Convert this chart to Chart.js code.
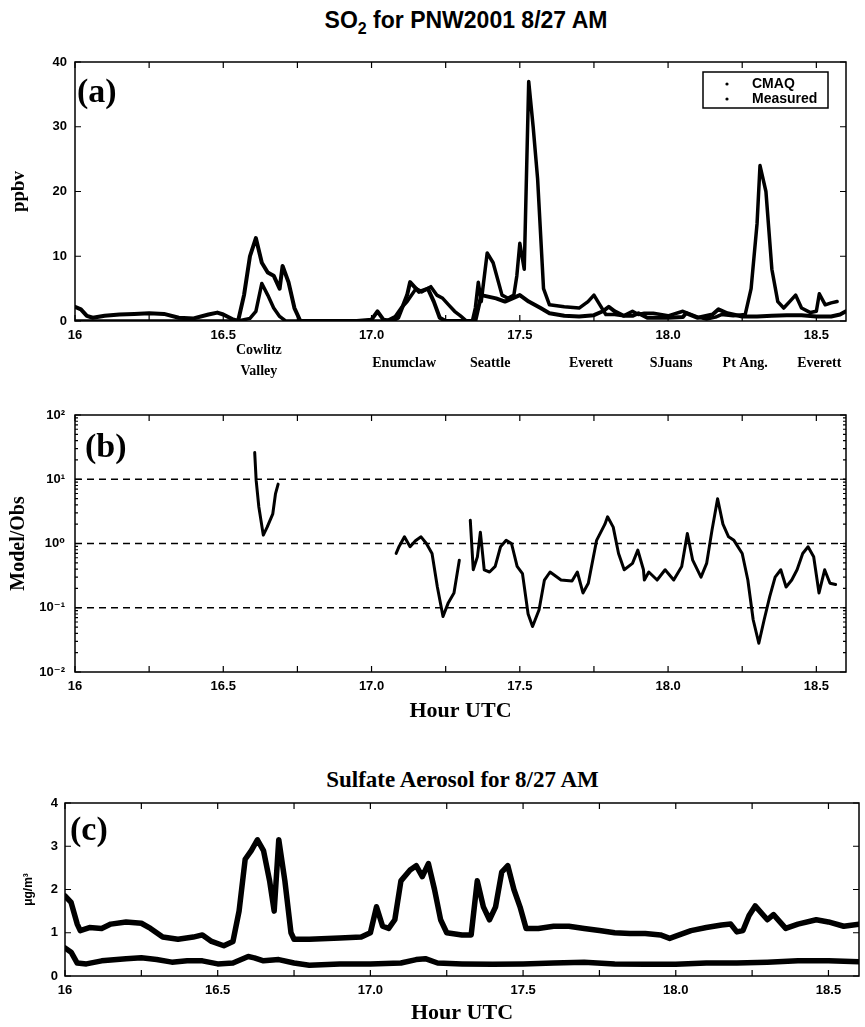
<!DOCTYPE html>
<html lang="en">
<head>
<meta charset="UTF-8">
<title>SO2 for PNW2001 8/27 AM</title>
<script src="https://cdn.jsdelivr.net/npm/chart.js"></script>
<style>
  body { margin: 0; background: #fff; }
  #page { position: relative; width: 865px; height: 1027px; background: #fff; }
  #page canvas, #page .txt { position: absolute; }
  .main-title { font: bold 23px 'Liberation Sans', Arial, sans-serif; left: 0; width: 932px; text-align: center; top: 7px; }
  .main-title sub { font-size: 16px; }
  .sub-title { font: bold 23px 'Liberation Serif', 'Times New Roman', serif; left: 0; width: 925px; text-align: center; top: 767px; }
</style>
</head>
<body>
<div id="page">
  <div class="txt main-title">SO<sub>2</sub> for PNW2001 8/27 AM</div>
  <canvas id="chartA" width="865" height="385" style="left:0;top:0"></canvas>
  <canvas id="chartB" width="865" height="340" style="left:0;top:385px"></canvas>
  <div class="txt sub-title">Sulfate Aerosol for 8/27 AM</div>
  <canvas id="chartC" width="865" height="302" style="left:0;top:725px"></canvas>
</div>

<script>
// x axis (hour UTC) ticks, labelled every half hour
const hourTicks = [16, 16.25, 16.5, 16.75, 17, 17.25, 17.5, 17.75, 18, 18.25, 18.5];

// (a) SO2, ppbv
const cmaqHours = [16.00, 16.02, 16.04, 16.06, 16.10, 16.15, 16.20, 16.25, 16.30, 16.35, 16.40, 16.45, 16.48, 16.50, 16.53, 16.55,
  16.57, 16.59, 16.61, 16.63, 16.65, 16.67, 16.69, 16.70, 16.72, 16.74, 16.76, 16.85, 16.95, 17.00, 17.02, 17.04, 17.07,
  17.09, 17.12, 17.13, 17.16, 17.19, 17.21, 17.23, 17.25, 17.30, 17.35, 17.37, 17.42, 17.45, 17.50, 17.53, 17.57, 17.60,
  17.65, 17.70, 17.75, 17.78, 17.80, 17.82, 17.85, 17.88, 17.90, 17.93, 17.96, 18.00, 18.05, 18.06, 18.10, 18.15, 18.17,
  18.20, 18.25, 18.30, 18.35, 18.40, 18.45, 18.50, 18.55, 18.58, 18.60];
const cmaqSO2 = [2.2, 1.8, 0.8, 0.5, 0.8, 1.0, 1.1, 1.2, 1.1, 0.5, 0.4, 1.0, 1.3, 1.0, 0.3, 0,
  4, 10, 12.8, 9, 7.5, 7, 5, 8.5, 6, 2, 0, 0, 0, 0.2, 1.5, 0.2, 0,
  0.5, 4, 6, 4.5, 5, 3, 0.5, 0, 0, 0, 4, 3.5, 3, 4, 3, 2, 1.2,
  0.8, 0.7, 0.9, 1.5, 2.2, 1.5, 0.8, 0.8, 1.2, 0.5, 0.5, 0.5, 0.6, 1.2, 0.5, 1.0, 1.8,
  1.2, 0.7, 0.7, 0.8, 0.9, 0.9, 0.7, 0.7, 1.0, 1.5];

const measHours = [16.00, 16.55, 16.59, 16.61, 16.63, 16.65, 16.67, 16.69, 16.71, 16.75, 17.05, 17.08, 17.10, 17.12, 17.15,
  17.17, 17.20, 17.22, 17.24, 17.26, 17.28, 17.30, 17.32, 17.34, 17.35, 17.36, 17.37, 17.39, 17.41, 17.44, 17.46, 17.48,
  17.49, 17.50, 17.515, 17.53, 17.545, 17.56, 17.58, 17.60, 17.65, 17.70, 17.73, 17.75, 17.77, 17.79, 17.82, 17.85,
  17.88, 17.90, 17.92, 17.95, 18.00, 18.05, 18.10, 18.13, 18.16, 18.18, 18.22, 18.26, 18.28, 18.30, 18.31, 18.33, 18.35,
  18.37, 18.39, 18.41, 18.43, 18.45, 18.48, 18.50, 18.51, 18.53, 18.55, 18.57];
const measuredSO2 = [0, 0, 0.4, 1.5, 5.8, 4, 2, 0.7, 0, 0, 0, 0.7, 2, 3, 5,
  4.5, 5.3, 4, 3.5, 2.5, 1.5, 0.8, 0, 0, 2, 6, 3, 10.5, 9, 4, 3.5, 4,
  7, 12, 8, 37, 30, 22, 5, 2.5, 2.2, 2, 3, 4, 2.5, 1, 1, 0.8,
  1.5, 1, 1.2, 1.2, 0.8, 1.5, 0.6, 0.3, 0.6, 1, 0.8, 1, 5, 15, 24, 20, 8,
  3, 2, 3, 4, 2, 1.3, 1.5, 4.2, 2.5, 2.8, 3];

// site names under panel (a)
const siteNames = ['Cowlitz\nValley', 'Enumclaw', 'Seattle', 'Everett', 'SJuans', 'Pt Ang.', 'Everett'];
const siteHours = [16.62, 17.11, 17.40, 17.74, 18.01, 18.26, 18.51];

// (b) model / obs ratio, null = no data
const ratioHours = [16.606, 16.611, 16.62, 16.635, 16.648, 16.667, 16.676, 16.685, 16.9,
  17.083, 17.093, 17.111, 17.13, 17.148, 17.167, 17.185, 17.204, 17.222, 17.241, 17.259, 17.278, 17.296, 17.31,
  17.333, 17.343, 17.357, 17.367, 17.38, 17.398, 17.417, 17.435, 17.454, 17.472, 17.491, 17.509, 17.528, 17.543,
  17.565, 17.583, 17.602, 17.639, 17.676, 17.694, 17.713, 17.731, 17.759, 17.787, 17.796, 17.815, 17.833, 17.852,
  17.88, 17.898, 17.917, 17.92, 17.935, 17.963, 17.99, 18.019, 18.046, 18.065, 18.083, 18.111, 18.13, 18.148,
  18.167, 18.185, 18.204, 18.222, 18.25, 18.269, 18.287, 18.306, 18.324, 18.343, 18.361, 18.38, 18.398, 18.417,
  18.435, 18.454, 18.472, 18.491, 18.509, 18.528, 18.546, 18.565];
const ratioValues = [26, 9.5, 3.7, 1.35, 1.8, 2.9, 5.9, 8.4, null,
  0.7, 0.9, 1.27, 0.89, 1.1, 1.27, 1.0, 0.7, 0.21, 0.073, 0.12, 0.17, 0.55, null,
  2.3, 0.39, 0.62, 1.5, 0.39, 0.36, 0.44, 0.89, 1.12, 1.0, 0.44, 0.34, 0.08, 0.051,
  0.093, 0.27, 0.36, 0.27, 0.26, 0.36, 0.17, 0.24, 1.12, 2.0, 2.6, 1.8, 0.7, 0.39,
  0.49, 0.79, 0.39, 0.27, 0.36, 0.27, 0.39, 0.27, 0.44, 1.43, 0.55, 0.3, 0.49, 1.6,
  4.96, 2.0, 1.27, 1.12, 0.7, 0.27, 0.065, 0.028, 0.065, 0.15, 0.3, 0.39, 0.21, 0.27,
  0.39, 0.7, 0.89, 0.62, 0.17, 0.39, 0.24, 0.23];
const ratioLines = [10, 1, 0.1];

// (c) sulfate aerosol, ug/m3
const sulfHiHours = [16.00, 16.02, 16.04, 16.05, 16.08, 16.12, 16.15, 16.20, 16.25, 16.28, 16.32, 16.37, 16.42, 16.45,
  16.48, 16.52, 16.55, 16.57, 16.59, 16.61, 16.63, 16.65, 16.67, 16.685, 16.70, 16.72, 16.74, 16.75, 16.80, 16.90,
  16.97, 17.00, 17.02, 17.04, 17.06, 17.08, 17.10, 17.13, 17.15, 17.17, 17.19, 17.21, 17.23, 17.25, 17.30, 17.33,
  17.35, 17.37, 17.39, 17.41, 17.43, 17.45, 17.47, 17.49, 17.51, 17.55, 17.60, 17.65, 17.70, 17.75, 17.80, 17.85,
  17.90, 17.95, 17.98, 18.00, 18.05, 18.10, 18.15, 18.18, 18.20, 18.22, 18.24, 18.26, 18.30, 18.32, 18.36, 18.40,
  18.46, 18.50, 18.55, 18.60];
const sulfateHi = [1.85, 1.7, 1.2, 1.05, 1.12, 1.1, 1.2, 1.25, 1.22, 1.1, 0.9, 0.85, 0.9, 0.95,
  0.8, 0.7, 0.8, 1.5, 2.7, 2.9, 3.15, 2.9, 2.2, 1.5, 3.15, 2.2, 1.0, 0.85, 0.85, 0.88,
  0.9, 1.0, 1.6, 1.15, 1.1, 1.3, 2.2, 2.45, 2.55, 2.3, 2.6, 2.0, 1.3, 1.0, 0.95, 0.95,
  2.2, 1.6, 1.3, 1.6, 2.4, 2.55, 2.0, 1.6, 1.1, 1.1, 1.15, 1.15, 1.1, 1.05, 1.0, 0.98,
  0.98, 0.95, 0.87, 0.92, 1.05, 1.12, 1.18, 1.2, 1.02, 1.05, 1.4, 1.62, 1.3, 1.42, 1.1, 1.2,
  1.3, 1.25, 1.15, 1.2];

const sulfLoHours = [16.00, 16.02, 16.04, 16.07, 16.12, 16.20, 16.25, 16.30, 16.35, 16.40, 16.45, 16.50, 16.55, 16.60,
  16.62, 16.65, 16.70, 16.75, 16.80, 16.90, 17.00, 17.10, 17.15, 17.18, 17.22, 17.30, 17.40, 17.50, 17.60, 17.70,
  17.80, 17.90, 18.00, 18.10, 18.20, 18.30, 18.40, 18.50, 18.60];
const sulfateLo = [0.65, 0.55, 0.3, 0.28, 0.35, 0.4, 0.42, 0.38, 0.32, 0.35, 0.35, 0.28, 0.3, 0.45,
  0.42, 0.35, 0.38, 0.3, 0.25, 0.28, 0.28, 0.3, 0.38, 0.4, 0.3, 0.28, 0.27, 0.28, 0.3, 0.32,
  0.28, 0.27, 0.27, 0.3, 0.3, 0.32, 0.35, 0.35, 0.33];

const sansFont = "'Liberation Sans', Arial, 'DejaVu Sans', sans-serif";
const serifFont = "'Liberation Serif', 'Times New Roman', serif";
const tickFont = { family: sansFont, size: 13, weight: 'bold' };

function pts(xs, ys) {
  return xs.map((x, i) => ({ x: x, y: ys[i] }));
}

function hourLabel(v) {
  if (Math.abs(v * 2 - Math.round(v * 2)) > 1e-6) return '';
  return v === 16 ? '16' : v.toFixed(1);
}

function line(label, data, width) {
  return { label: label, data: data, borderColor: '#000', backgroundColor: '#000',
    borderWidth: width, borderJoinStyle: 'round', borderCapStyle: 'round',
    pointRadius: 0, tension: 0, fill: false, spanGaps: false };
}

function xScale(height, title) {
  return {
    type: 'linear', min: 16, max: 18.6,
    afterBuildTicks: s => { s.ticks = hourTicks.map(v => ({ value: v })); },
    afterFit: s => { s.height = height; },
    grid: { display: false, drawTicks: false },
    border: { display: false },
    ticks: { autoSkip: false, maxRotation: 0, padding: 7, color: '#000', font: tickFont, callback: v => hourLabel(v) },
    title: title ? { display: true, text: title, color: '#000', padding: { top: 0, bottom: 0 },
      font: { family: serifFont, size: 22, weight: 'bold' } } : { display: false }
  };
}

// matlab style box with inward ticks, panel letter and extras
const framePlugin = {
  id: 'frame',
  afterDatasetsDraw(chart, args, opts) {
    const { ctx, chartArea: a, scales } = chart;
    const x = scales.x, y = scales.y;
    ctx.save();
    ctx.strokeStyle = '#000';
    ctx.fillStyle = '#000';

    if (opts.dashed) {
      ctx.lineWidth = 1.6;
      ctx.setLineDash([7, 5]);
      ctx.beginPath();
      opts.dashed.forEach(v => {
        const py = y.getPixelForValue(v);
        ctx.moveTo(a.left, py); ctx.lineTo(a.right, py);
      });
      ctx.stroke();
      ctx.setLineDash([]);
    }

    ctx.lineWidth = 1.5;
    ctx.strokeRect(a.left, a.top, a.right - a.left, a.bottom - a.top);

    ctx.lineWidth = 1.2;
    ctx.beginPath();
    x.ticks.forEach(t => {
      const px = x.getPixelForValue(t.value);
      ctx.moveTo(px, a.bottom); ctx.lineTo(px, a.bottom - 6);
      ctx.moveTo(px, a.top); ctx.lineTo(px, a.top + 6);
    });
    y.ticks.forEach(t => {
      const py = y.getPixelForValue(t.value);
      ctx.moveTo(a.left, py); ctx.lineTo(a.left + 6, py);
      ctx.moveTo(a.right, py); ctx.lineTo(a.right - 6, py);
    });
    if (opts.minorLog) {
      for (let d = y.min; d < y.max; d *= 10) {
        for (let k = 2; k <= 9; k++) {
          const py = y.getPixelForValue(d * k);
          ctx.moveTo(a.left, py); ctx.lineTo(a.left + 3, py);
          ctx.moveTo(a.right, py); ctx.lineTo(a.right - 3, py);
        }
      }
    }
    ctx.stroke();

    ctx.font = 'bold 34px ' + serifFont;
    ctx.textBaseline = 'alphabetic';
    ctx.fillText(opts.letter, a.left + opts.letterDx, a.top + opts.letterDy);

    if (opts.sites) {
      ctx.font = 'bold 14px ' + serifFont;
      ctx.textAlign = 'center';
      ctx.textBaseline = 'middle';
      siteNames.forEach((name, i) => {
        const px = x.getPixelForValue(siteHours[i]);
        const rows = name.split('\n');
        if (rows.length === 1) {
          ctx.fillText(rows[0], px, a.bottom + 42);
        } else {
          ctx.fillText(rows[0], px, a.bottom + 29);
          ctx.fillText(rows[1], px, a.bottom + 50);
        }
      });
    }

    if (opts.legend) {
      const bx = a.right - 143, by = a.top + 10, bw = 125, bh = 36;
      ctx.fillStyle = '#fff';
      ctx.fillRect(bx, by, bw, bh);
      ctx.fillStyle = '#000';
      ctx.lineWidth = 1.5;
      ctx.strokeRect(bx, by, bw, bh);
      ctx.font = 'bold 14px ' + sansFont;
      ctx.textAlign = 'left';
      ctx.textBaseline = 'middle';
      chart.data.datasets.forEach((ds, i) => {
        const ly = by + 12 + i * 15;
        ctx.beginPath();
        ctx.arc(bx + 24, ly, 1.6, 0, Math.PI * 2);
        ctx.fill();
        ctx.fillText(ds.label, bx + 49, ly);
      });
    }
    ctx.restore();
  }
};

Chart.defaults.font.family = sansFont;
Chart.defaults.color = '#000';

// (a) SO2
new Chart(document.getElementById('chartA'), {
  type: 'line',
  data: { datasets: [
    line('CMAQ', pts(cmaqHours, cmaqSO2), 4),
    line('Measured', pts(measHours, measuredSO2), 3.5)
  ] },
  options: {
    responsive: false, animation: false,
    layout: { padding: { top: 62, right: 19, left: 0, bottom: 0 } },
    plugins: { legend: { display: false }, tooltip: { enabled: false },
      frame: { letter: '(a)', letterDx: 2, letterDy: 40, sites: true, legend: true } },
    scales: {
      x: xScale(64, null),
      y: {
        min: 0, max: 40,
        afterBuildTicks: s => { s.ticks = [0, 10, 20, 30, 40].map(v => ({ value: v })); },
        afterFit: s => { s.width = 75; },
        grid: { display: false, drawTicks: false }, border: { display: false },
        ticks: { padding: 8, color: '#000', font: tickFont },
        title: { display: true, text: 'ppbv', color: '#000', padding: { top: 8, bottom: 0 },
          font: { family: serifFont, size: 19, weight: 'bold' } }
      }
    }
  },
  plugins: [framePlugin]
});

// (b) Model / Obs
const supers = { '-2': '10\u207B\u00B2', '-1': '10\u207B\u00B9', '0': '10\u2070', '1': '10\u00B9', '2': '10\u00B2' };
new Chart(document.getElementById('chartB'), {
  type: 'line',
  data: { datasets: [ line('Model/Obs', pts(ratioHours, ratioValues), 3) ] },
  options: {
    responsive: false, animation: false,
    layout: { padding: { top: 30, right: 19, left: 0, bottom: 0 } },
    plugins: { legend: { display: false }, tooltip: { enabled: false },
      frame: { letter: '(b)', letterDx: 10, letterDy: 42, dashed: ratioLines, minorLog: true } },
    scales: {
      x: xScale(53, 'Hour UTC'),
      y: {
        type: 'logarithmic', min: 0.01, max: 100,
        afterBuildTicks: s => { s.ticks = [0.01, 0.1, 1, 10, 100].map(v => ({ value: v })); },
        afterFit: s => { s.width = 75; },
        grid: { display: false, drawTicks: false }, border: { display: false },
        ticks: { padding: 10, color: '#000', font: tickFont,
          callback: v => supers[String(Math.round(Math.log10(v)))] },
        title: { display: true, text: 'Model/Obs', color: '#000', padding: { top: 7, bottom: 0 },
          font: { family: serifFont, size: 20, weight: 'bold' } }
      }
    }
  },
  plugins: [framePlugin]
});

// (c) Sulfate
new Chart(document.getElementById('chartC'), {
  type: 'line',
  data: { datasets: [
    line('Measured', pts(sulfHiHours, sulfateHi), 5.5),
    line('CMAQ', pts(sulfLoHours, sulfateLo), 5.5)
  ] },
  options: {
    responsive: false, animation: false,
    layout: { padding: { top: 78, right: 6, left: 0, bottom: 0 } },
    plugins: { legend: { display: false }, tooltip: { enabled: false },
      frame: { letter: '(c)', letterDx: 5, letterDy: 37 } },
    scales: {
      x: xScale(51, 'Hour UTC'),
      y: {
        min: 0, max: 4,
        afterBuildTicks: s => { s.ticks = [0, 1, 2, 3, 4].map(v => ({ value: v })); },
        afterFit: s => { s.width = 65; },
        grid: { display: false, drawTicks: false }, border: { display: false },
        ticks: { padding: 7, color: '#000', font: tickFont },
        title: { display: true, text: '\u03BCg/m\u00B3', color: '#000', padding: { top: 21, bottom: 0 },
          font: { family: sansFont, size: 12, weight: 'bold' } }
      }
    }
  },
  plugins: [framePlugin]
});
</script>
</body>
</html>
